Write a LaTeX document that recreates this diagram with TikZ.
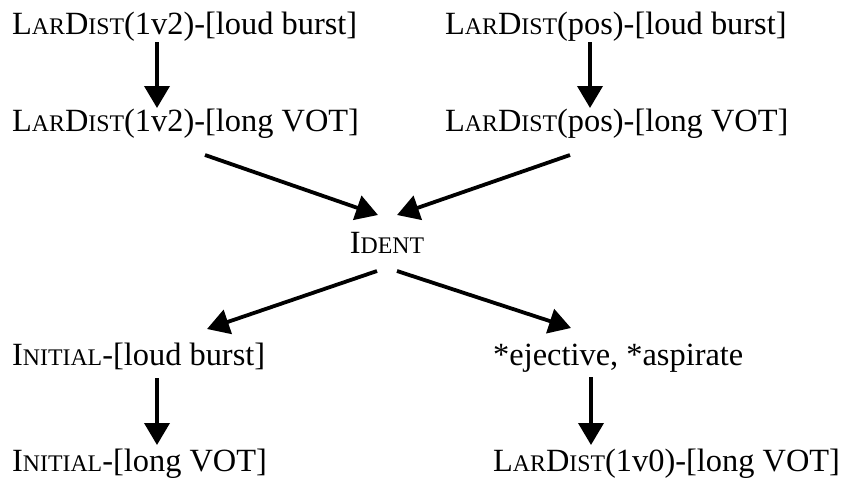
\documentclass[tikz,border=0pt]{standalone}
\usepackage{fontspec}
\setmainfont{Liberation Serif}
\usetikzlibrary{arrows.meta, positioning, calc}
\newcommand{\lsc}[1]{{\fontsize{23.8}{28}\selectfont #1}}
\tikzstyle{label} = [inner sep=0pt, font=\fontsize{32.4}{36}\selectfont]
\tikzstyle{arrow} = [line width=3.8pt, -{Triangle[length=22pt, width=25pt]}]

\begin{document}
\begin{tikzpicture}[x=1pt, y=1pt]
\useasboundingbox (0,0) rectangle (843,-482);

% Rows of constraints
\node (ld1) [label, anchor=base west] at (12,-34) {L\lsc{AR}D\lsc{IST}(1v2)-[loud burst]};
\node (rd1) [label, anchor=base west] at (445,-34) {L\lsc{AR}D\lsc{IST}(pos)-[loud burst]};
\node (ld2) [label, anchor=base west] at (12,-131) {L\lsc{AR}D\lsc{IST}(1v2)-[long VOT]};
\node (rd2) [label, anchor=base west] at (445,-131) {L\lsc{AR}D\lsc{IST}(pos)-[long VOT]};
\node (ident) [label, anchor=base] at (387,-253) {I\lsc{DENT}};
\node (in1) [label, anchor=base west] at (12,-365) {I\lsc{NITIAL}-[loud burst]};
\node (ej) [label, anchor=base west] at (493,-365) {*ejective, *aspirate};
\node (in2) [label, anchor=base west] at (12,-471) {I\lsc{NITIAL}-[long VOT]};
\node (ld0) [label, anchor=base west] at (493,-471) {L\lsc{AR}D\lsc{IST}(1v0)-[long VOT]};

% Arrows
\draw [arrow] ([shift={(145,-8)}]ld1.base west) -- ([shift={(145,23)}]ld2.base west);
\draw [arrow] ([shift={(145,-8)}]rd1.base west) -- ([shift={(145,23)}]rd2.base west);
\draw [arrow] ([shift={(193,-24)}]ld2.base west) -- ([shift={(-9,38)}]ident.base);
\draw [arrow] ([shift={(125,-24)}]rd2.base west) -- ([shift={(10,38)}]ident.base);
\draw [arrow] ([shift={(-10,-18)}]ident.base) -- ([shift={(195,36)}]in1.base west);
\draw [arrow] ([shift={(10,-18)}]ident.base) -- ([shift={(78,37)}]ej.base west);
\draw [arrow] ([shift={(145,-13)}]in1.base west) -- ([shift={(145,26)}]in2.base west);
\draw [arrow] ([shift={(98,-12)}]ej.base west) -- ([shift={(98,26)}]ld0.base west);

\end{tikzpicture}
\end{document}
